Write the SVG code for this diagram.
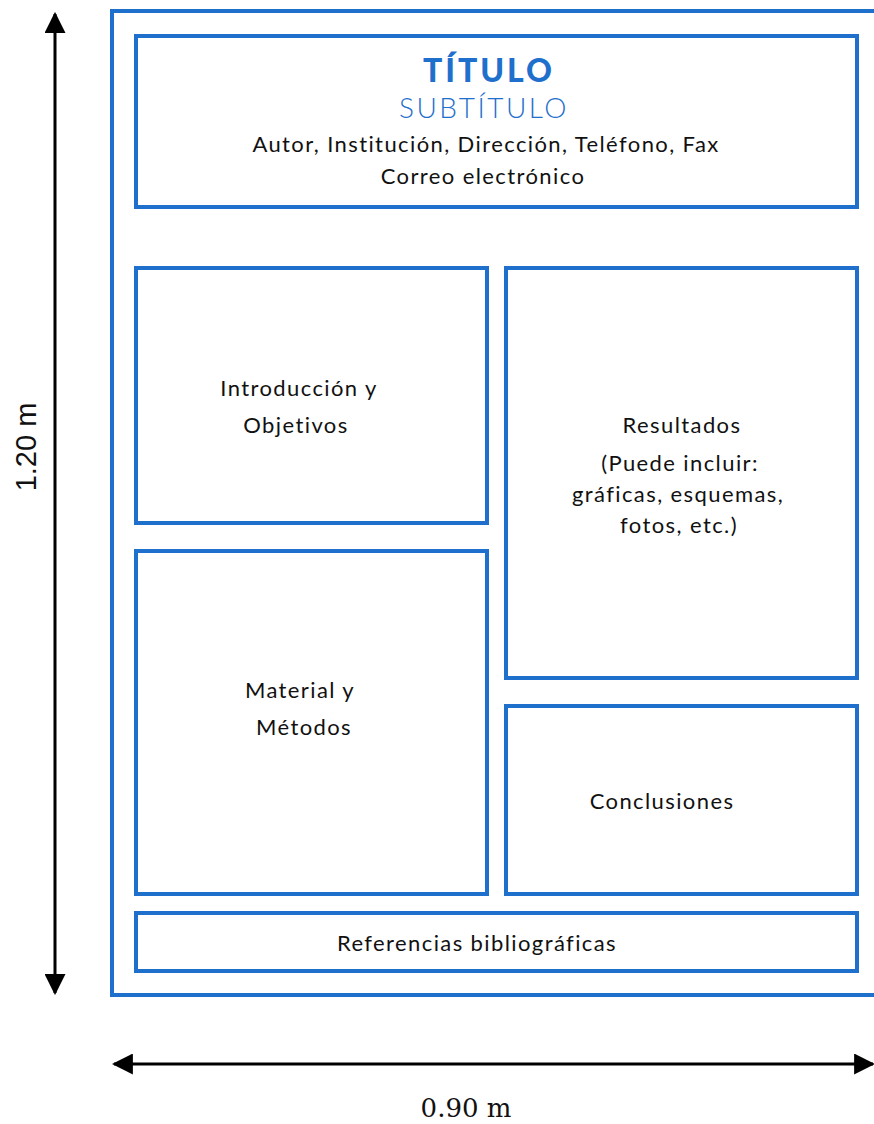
<svg xmlns="http://www.w3.org/2000/svg" width="874" height="1124" viewBox="0 0 874 1124">
<style>
.box{fill:#fff;stroke:#1f6fcc;stroke-width:4}
.t{font-family:Lato,"Open Sans",sans-serif;font-size:22px;fill:#111;text-anchor:middle;letter-spacing:1.4px}
.dim{stroke:#000;stroke-width:3;fill:none}
</style>
<defs>
<marker id="ah" viewBox="0 0 10 10" refX="9" refY="5" markerWidth="7" markerHeight="7" markerUnits="strokeWidth" orient="auto-start-reverse">
<path d="M0,0 L10,5 L0,10 z" fill="#000"/>
</marker>
</defs>
<rect width="874" height="1124" fill="#fff"/>
<g id="frame"><rect class="box" x="112" y="11" width="780" height="984"/></g>
<g id="connectors">
<line class="dim" x1="55" y1="14" x2="55" y2="993" marker-start="url(#ah)" marker-end="url(#ah)"/>
<line class="dim" x1="114" y1="1064" x2="873" y2="1064" marker-start="url(#ah)" marker-end="url(#ah)"/>
</g>
<g id="label-height"><text x="36" y="447" transform="rotate(-90 36 447)" font-family="Liberation Sans,Arial,sans-serif" font-size="29" text-anchor="middle" fill="#111">1.20 m</text></g>
<g id="label-width"><text x="466" y="1117" font-family="DejaVu Serif,serif" font-size="26" text-anchor="middle" fill="#111">0.90 m</text></g>
<g id="title">
<rect class="box" x="136" y="36" width="721" height="171"/>
<text x="489" y="82" font-family="Lato,sans-serif" font-weight="900" font-size="32" fill="#1f6fcc" text-anchor="middle" letter-spacing="3">TÍTULO</text>
<text x="484" y="118" font-family="Lato,sans-serif" font-weight="300" font-size="28" fill="#1f6fcc" text-anchor="middle" letter-spacing="2.5">SUBTÍTULO</text>
<text class="t" x="486" y="152">Autor, Institución, Dirección, Teléfono, Fax</text>
<text class="t" x="483" y="184">Correo electrónico</text>
</g>
<g id="intro">
<rect class="box" x="136" y="268" width="351" height="255"/>
<text class="t" x="299" y="396">Introducción y</text>
<text class="t" x="296" y="433">Objetivos</text>
</g>
<g id="material">
<rect class="box" x="136" y="551" width="351" height="343"/>
<text class="t" x="300" y="698">Material y</text>
<text class="t" x="304" y="735">Métodos</text>
</g>
<g id="resultados">
<rect class="box" x="506" y="268" width="351" height="410"/>
<text class="t" x="682" y="433">Resultados</text>
<text class="t" x="680" y="471">(Puede incluir:</text>
<text class="t" x="678" y="502">gráficas, esquemas,</text>
<text class="t" x="679" y="533">fotos, etc.)</text>
</g>
<g id="conclusiones">
<rect class="box" x="506" y="706" width="351" height="188"/>
<text class="t" x="662" y="809">Conclusiones</text>
</g>
<g id="referencias">
<rect class="box" x="136" y="913" width="721" height="58"/>
<text class="t" x="477" y="951">Referencias bibliográficas</text>
</g>
</svg>
